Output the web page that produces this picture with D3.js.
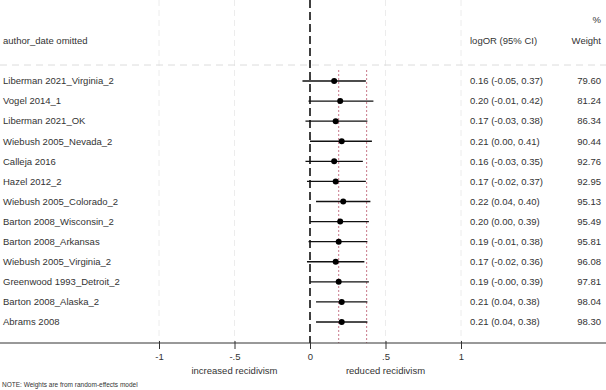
<!DOCTYPE html>
<html>
<head>
<meta charset="utf-8">
<script src="https://cdn.jsdelivr.net/npm/d3@7"></script>
<style>
  body { margin: 0; background: #fff; }
  text { font-family: "Liberation Sans", Arial, sans-serif; fill: #333; }
</style>
</head>
<body>
<div id="chart-area"></div>
<script>
// data
const studies = ["Liberman 2021_Virginia_2", "Vogel 2014_1", "Liberman 2021_OK", "Wiebush 2005_Nevada_2",
  "Calleja 2016", "Hazel 2012_2", "Wiebush 2005_Colorado_2", "Barton 2008_Wisconsin_2", "Barton 2008_Arkansas",
  "Wiebush 2005_Virginia_2", "Greenwood 1993_Detroit_2", "Barton 2008_Alaska_2", "Abrams 2008"]
const estimate = [0.16, 0.20, 0.17, 0.21, 0.16, 0.17, 0.22, 0.20, 0.19, 0.17, 0.19, 0.21, 0.21]
const lower = [-0.05, -0.01, -0.03, 0.00, -0.03, -0.02, 0.04, 0.00, -0.01, -0.02, -0.00, 0.04, 0.04]
const upper = [0.37, 0.42, 0.38, 0.41, 0.35, 0.37, 0.40, 0.39, 0.38, 0.36, 0.39, 0.38, 0.38]
const weight = [79.60, 81.24, 86.34, 90.44, 92.76, 92.95, 95.13, 95.49, 95.81, 96.08, 97.81, 98.04, 98.30]
const ciText = ["0.16 (-0.05, 0.37)", "0.20 (-0.01, 0.42)", "0.17 (-0.03, 0.38)", "0.21 (0.00, 0.41)",
  "0.16 (-0.03, 0.35)", "0.17 (-0.02, 0.37)", "0.22 (0.04, 0.40)", "0.20 (0.00, 0.39)", "0.19 (-0.01, 0.38)",
  "0.17 (-0.02, 0.36)", "0.19 (-0.00, 0.39)", "0.21 (0.04, 0.38)", "0.21 (0.04, 0.38)"]
const refLines = [0.19, 0.375]
const xTicks = [-1, -0.5, 0, 0.5, 1]
const xTickLabels = ["-1", "-.5", "0", ".5", "1"]

const svgWidth = 606
const svgHeight = 390
const axisY = 343
const fs = 9.5

const svg = d3.select("#chart-area")
  .append("svg")
  .attr("width", svgWidth)
  .attr("height", svgHeight)

const xScale = d3.scaleLinear()
  .domain([-1, 1])
  .range([159, 461])

const yScale = d3.scalePoint()
  .domain(studies)
  .range([81, 322])

// light grid
svg.append("g")
  .selectAll("line")
  .data(xTicks.filter(d => d !== 0))
  .join("line")
  .attr("x1", d => xScale(d)).attr("x2", d => xScale(d))
  .attr("y1", 0).attr("y2", axisY)
  .attr("stroke", "#ececec")
  .attr("stroke-dasharray", "6,4")

svg.append("line")
  .attr("x1", 0).attr("x2", svgWidth)
  .attr("y1", 65).attr("y2", 65)
  .attr("stroke", "#dcdcdc")
  .attr("stroke-dasharray", "7,5")

// reference lines (red dotted)
svg.append("g")
  .selectAll("line")
  .data(refLines)
  .join("line")
  .attr("x1", d => xScale(d)).attr("x2", d => xScale(d))
  .attr("y1", 70).attr("y2", axisY)
  .attr("stroke", "#c8788a")
  .attr("stroke-width", 1)
  .attr("stroke-dasharray", "2,2")

// null line
svg.append("line")
  .attr("x1", xScale(0)).attr("x2", xScale(0))
  .attr("y1", 0).attr("y2", axisY)
  .attr("stroke", "#000")
  .attr("stroke-width", 1.5)
  .attr("stroke-dasharray", "8,4")

// CIs and points
const rows = svg.append("g")
  .selectAll("g")
  .data(studies)
  .join("g")

rows.append("line")
  .attr("x1", (d, i) => xScale(lower[i]))
  .attr("x2", (d, i) => xScale(upper[i]))
  .attr("y1", d => yScale(d)).attr("y2", d => yScale(d))
  .attr("stroke", "#111")
  .attr("stroke-width", 1.4)

rows.append("circle")
  .attr("cx", (d, i) => xScale(estimate[i]))
  .attr("cy", d => yScale(d))
  .attr("r", 3)
  .attr("fill", "#000")

// row texts
rows.append("text")
  .attr("x", 3)
  .attr("y", d => yScale(d))
  .attr("dy", "0.35em")
  .attr("font-size", fs)
  .text(d => d)

rows.append("text")
  .attr("x", 470)
  .attr("y", d => yScale(d))
  .attr("dy", "0.35em")
  .attr("font-size", fs)
  .text((d, i) => ciText[i])

rows.append("text")
  .attr("x", 601)
  .attr("y", d => yScale(d))
  .attr("dy", "0.35em")
  .attr("font-size", fs)
  .attr("text-anchor", "end")
  .text((d, i) => weight[i].toFixed(2))

// headers
svg.append("text").attr("x", 3).attr("y", 41).attr("dy", "0.35em").attr("font-size", fs).text("author_date omitted")
svg.append("text").attr("x", 470).attr("y", 41).attr("dy", "0.35em").attr("font-size", fs).text("logOR (95% CI)")
svg.append("text").attr("x", 601).attr("y", 41).attr("dy", "0.35em").attr("font-size", fs).attr("text-anchor", "end").text("Weight")
svg.append("text").attr("x", 601).attr("y", 20).attr("dy", "0.35em").attr("font-size", fs).attr("text-anchor", "end").text("%")

// x axis
const xAxis = svg.append("g")
  .attr("transform", `translate(0,${axisY})`)
  .call(d3.axisBottom(xScale).tickValues(xTicks).tickFormat((d, i) => xTickLabels[i]).tickSize(6).tickSizeOuter(0))

xAxis.select(".domain").remove()
xAxis.append("line")
  .attr("x1", 0).attr("x2", svgWidth)
  .attr("stroke", "#333")
  .attr("stroke-width", 1)
xAxis.selectAll(".tick line").attr("stroke", "#333").attr("y1", -2)
xAxis.selectAll(".tick text")
  .attr("font-family", "Liberation Sans, Arial, sans-serif")
  .attr("font-size", fs)
  .attr("fill", "#333")
  .attr("y", 10)

svg.append("text").attr("x", xScale(-0.5)).attr("y", 371).attr("dy", "0.35em")
  .attr("font-size", fs).attr("text-anchor", "middle").text("increased recidivism")
svg.append("text").attr("x", xScale(0.5)).attr("y", 371).attr("dy", "0.35em")
  .attr("font-size", fs).attr("text-anchor", "middle").text("reduced recidivism")

svg.append("text").attr("x", 2).attr("y", 385).attr("dy", "0.35em")
  .attr("font-size", 6.5).text("NOTE: Weights are from random-effects model")
</script>
</body>
</html>
